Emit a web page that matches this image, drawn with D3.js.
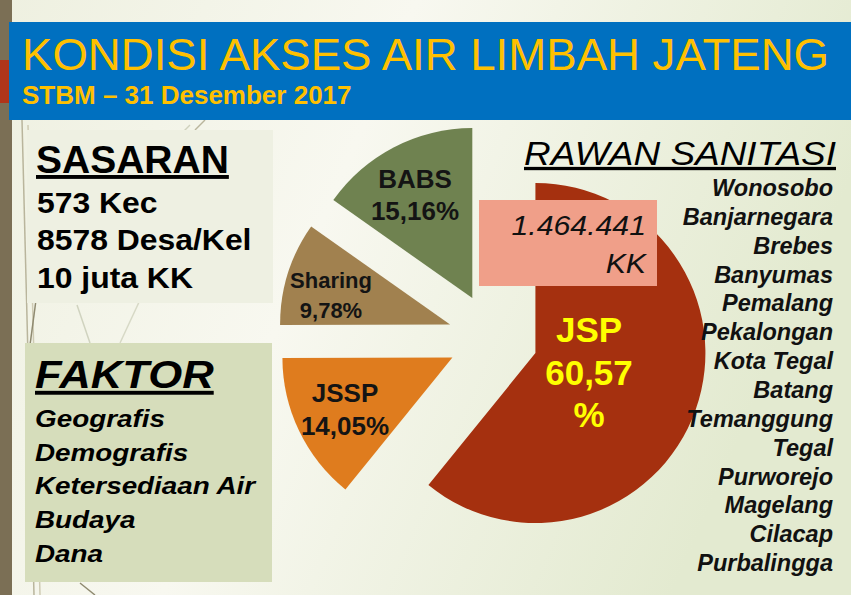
<!DOCTYPE html>
<html>
<head>
<meta charset="utf-8">
<script src="https://cdn.jsdelivr.net/npm/d3@7"></script>
<style>
  html, body { margin: 0; padding: 0; background: #f3f4ea; }
  svg { display: block; font-family: "Liberation Sans", Arial, sans-serif; }
</style>
</head>
<body>
<svg id="chart" width="851" height="595"></svg>
<script>
// data
const sliceNames = ['JSP', 'JSSP', 'Sharing', 'BABS'];
const sliceValues = [60.57, 14.05, 9.78, 15.16];
const sliceLabels = ['60,57', '14,05%', '9,78%', '15,16%'];
const sliceColors = ['#a5300f', '#df7c1e', '#a1814f', '#6f8250'];
const sasaranLines = ['573 Kec', '8578 Desa/Kel', '10 juta KK'];
const faktorLines = ['Geografis', 'Demografis', 'Ketersediaan Air', 'Budaya', 'Dana'];
const rawanKK = ['1.464.441', 'KK'];
const rawanDistricts = ['Wonosobo', 'Banjarnegara', 'Brebes', 'Banyumas', 'Pemalang', 'Pekalongan',
    'Kota Tegal', 'Batang', 'Temanggung', 'Tegal', 'Purworejo', 'Magelang', 'Cilacap', 'Purbalingga'];

const W = 851, H = 595;
const svg = d3.select('#chart');
const defs = svg.append('defs');

// text block that is stretched horizontally a bit, like the slide
function textBlock(x, sx) {
    return svg.append('g').attr('transform', `translate(${x},0) scale(${sx},1)`);
}

const bg = defs.append('linearGradient').attr('id', 'bg').attr('x1', 0).attr('x2', 1).attr('y1', 0).attr('y2', 0.3);
bg.append('stop').attr('offset', 0).attr('stop-color', '#eef0e0');
bg.append('stop').attr('offset', 0.45).attr('stop-color', '#f8f8f0');
bg.append('stop').attr('offset', 1).attr('stop-color', '#e3ead0');

svg.append('rect').attr('width', W).attr('height', H).attr('fill', 'url(#bg)');

// faint template strokes
const strokes = [
    [22, 120, 34, 595, '#b9b59c'], [28, 125, 40, 595, '#cfcbb4'], [36, 300, 30, 345, '#8f8a70'],
    [77, 305, 90, 343, '#d0d3bf'], [120, 343, 140, 300, '#d7d9c6'], [80, 583, 95, 595, '#8f8a70'],
    [190, 125, 180, 135, '#cfd1bd'], [205, 120, 195, 130, '#b9b59c']
];
svg.append('g').selectAll('line').data(strokes).join('line')
    .attr('x1', d => d[0]).attr('y1', d => d[1]).attr('x2', d => d[2]).attr('y2', d => d[3])
    .attr('stroke', d => d[4]).attr('stroke-width', 1.5);

// left bar
svg.append('rect').attr('x', 0).attr('y', 0).attr('width', 12).attr('height', H).attr('fill', '#7b6f55');
svg.append('rect').attr('x', 0).attr('y', 60).attr('width', 9).attr('height', 43).attr('fill', '#b0351a');

// title banner
svg.append('rect').attr('x', 9).attr('y', 22).attr('width', W - 9).attr('height', 98).attr('fill', '#0070c0');
svg.append('text').attr('x', 22).attr('y', 70)
    .attr('font-size', 44).attr('fill', '#ffc000')
    .attr('textLength', 807).attr('lengthAdjust', 'spacingAndGlyphs')
    .text('KONDISI AKSES AIR LIMBAH JATENG');
svg.append('text').attr('x', 22).attr('y', 104)
    .attr('font-size', 26).attr('font-weight', 700).attr('fill', '#ffc000')
    .text('STBM \u2013 31 Desember 2017');

// pie
const cx = 493, cy = 338, radius = 170, explode = 45;
const pie = d3.pie().sort(null).value(d => d.value);
const arc = d3.arc().innerRadius(0).outerRadius(radius);
const slices = pie(sliceNames.map((name, i) => ({ name, value: sliceValues[i], label: sliceLabels[i], color: sliceColors[i] })));

const pieG = svg.append('g').attr('transform', `translate(${cx},${cy})`);
pieG.selectAll('path').data(slices).join('path')
    .attr('transform', d => {
        const mid = (d.startAngle + d.endAngle) / 2;
        return `translate(${explode * Math.sin(mid)},${-explode * Math.cos(mid)})`;
    })
    .attr('d', arc)
    .attr('fill', d => d.data.color);

// left boxes
svg.append('rect').attr('x', 27).attr('y', 130).attr('width', 246).attr('height', 173).attr('fill', '#eef0e2');
svg.append('text').attr('x', 36).attr('y', 173)
    .attr('font-size', 39).attr('font-weight', 700).attr('text-decoration', 'underline')
    .text('SASARAN');
textBlock(37, 1.1).selectAll('text').data(sasaranLines).join('text')
    .attr('x', 0).attr('y', (d, i) => 213 + i * 37.5)
    .attr('font-size', 29).attr('font-weight', 700).text(d => d);

svg.append('rect').attr('x', 25).attr('y', 343).attr('width', 247).attr('height', 239).attr('fill', '#d6ddbb');
textBlock(35, 1.12).append('text').attr('x', 0).attr('y', 388)
    .attr('font-size', 39).attr('font-weight', 700).attr('font-style', 'italic').attr('text-decoration', 'underline')
    .text('FAKTOR');
textBlock(35, 1.16).selectAll('text').data(faktorLines).join('text')
    .attr('x', 0).attr('y', (d, i) => 427 + i * 33.75)
    .attr('font-size', 24).attr('font-weight', 700).attr('font-style', 'italic').text(d => d);

// slice labels
const labelPos = {
    BABS: { x: 415, y: [188, 220], size: 26 },
    Sharing: { x: 331, y: [288, 318], size: 22 },
    JSSP: { x: 345, y: [402, 435], size: 26 }
};
Object.entries(labelPos).forEach(([name, p]) => {
    const s = slices.find(d => d.data.name === name);
    svg.append('g').selectAll('text').data([name, s.data.label]).join('text')
        .attr('x', p.x).attr('y', (d, i) => p.y[i])
        .attr('text-anchor', 'middle').attr('font-size', p.size).attr('font-weight', 700).attr('fill', '#141414')
        .text(d => d);
});

// rawan title
textBlock(836, 1.12).append('text').attr('x', 0).attr('y', 165).attr('text-anchor', 'end')
    .attr('font-size', 33).attr('font-style', 'italic').attr('text-decoration', 'underline')
    .text('RAWAN SANITASI');

// KK box
svg.append('rect').attr('x', 479).attr('y', 200).attr('width', 178).attr('height', 86).attr('fill', '#f09f89');
textBlock(646, 1.08).selectAll('text').data(rawanKK).join('text')
    .attr('x', 0).attr('y', (d, i) => 235 + i * 38)
    .attr('text-anchor', 'end').attr('font-size', 28).attr('font-style', 'italic').attr('fill', '#111')
    .text(d => d);

// JSP label
const jsp = slices.find(d => d.data.name === 'JSP');
svg.append('g').selectAll('text').data([jsp.data.name, jsp.data.label, '%']).join('text')
    .attr('x', 589).attr('y', (d, i) => 342 + i * 42.5)
    .attr('text-anchor', 'middle').attr('font-size', 35).attr('font-weight', 700).attr('fill', '#ffff00')
    .text(d => d);

// district list
svg.append('g').selectAll('text').data(rawanDistricts).join('text')
    .attr('x', 833).attr('y', (d, i) => 196 + i * 28.85)
    .attr('text-anchor', 'end').attr('font-size', 23.5).attr('font-weight', 700).attr('font-style', 'italic')
    .attr('fill', '#111').text(d => d);
</script>
</body>
</html>
